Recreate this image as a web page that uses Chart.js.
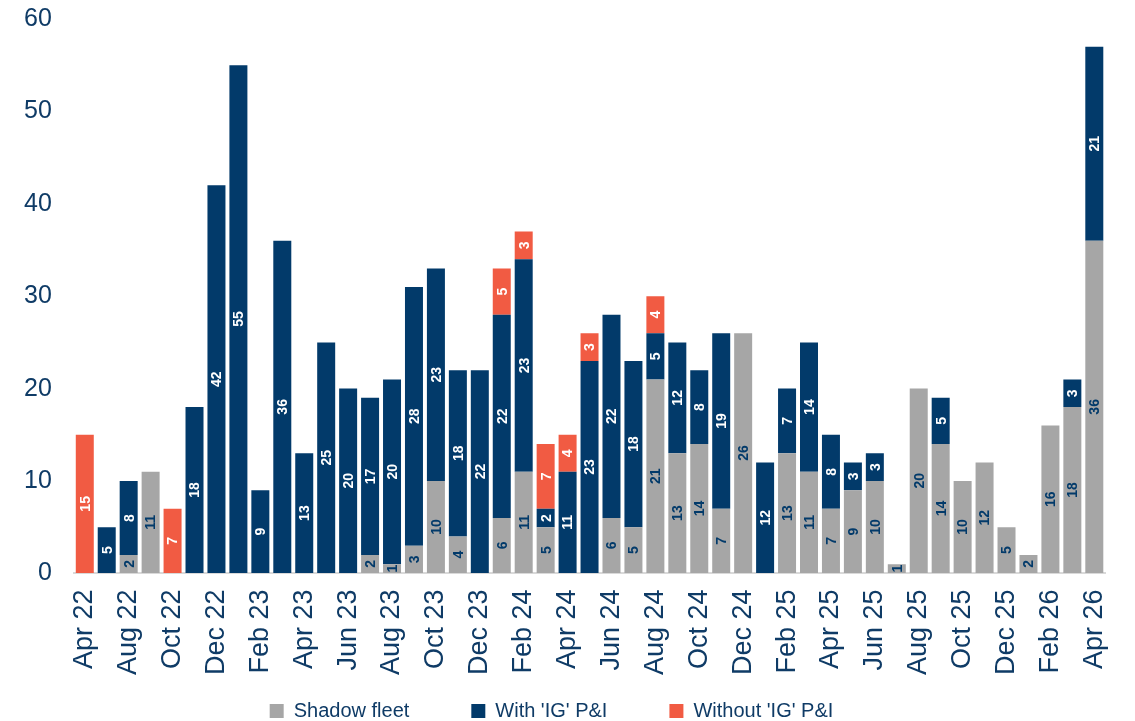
<!DOCTYPE html>
<html>
<head>
<meta charset="utf-8">
<script src="https://cdn.jsdelivr.net/npm/chart.js@4.4.1/dist/chart.umd.min.js"></script>
<style>
  html, body { margin: 0; padding: 0; background: #ffffff; }
  #wrap { width: 1135px; height: 721px; position: relative; }
</style>
</head>
<body>
<div id="wrap"><canvas id="tankers"></canvas></div>
<script>
// Monthly categories (second bar sits between Apr 22 and Aug 22)
const months = [
  'Apr 22', 'Jun 22', 'Aug 22', 'Sep 22', 'Oct 22', 'Nov 22', 'Dec 22', 'Jan 23',
  'Feb 23', 'Mar 23', 'Apr 23', 'May 23', 'Jun 23', 'Jul 23', 'Aug 23', 'Sep 23',
  'Oct 23', 'Nov 23', 'Dec 23', 'Jan 24', 'Feb 24', 'Mar 24', 'Apr 24', 'May 24',
  'Jun 24', 'Jul 24', 'Aug 24', 'Sep 24', 'Oct 24', 'Nov 24', 'Dec 24', 'Jan 25',
  'Feb 25', 'Mar 25', 'Apr 25', 'May 25', 'Jun 25', 'Jul 25', 'Aug 25', 'Sep 25',
  'Oct 25', 'Nov 25', 'Dec 25', 'Jan 26', 'Feb 26', 'Mar 26', 'Apr 26'
];

const shadowFleet = [
  0, 0, 2, 11, 0, 0, 0, 0,
  0, 0, 0, 0, 0, 2, 1, 3,
  10, 4, 0, 6, 11, 5, 0, 0,
  6, 5, 21, 13, 14, 7, 26, 0,
  13, 11, 7, 9, 10, 1, 20, 14,
  10, 12, 5, 2, 16, 18, 36
];

const withIG = [
  0, 5, 8, 0, 0, 18, 42, 55,
  9, 36, 13, 25, 20, 17, 20, 28,
  23, 18, 22, 22, 23, 2, 11, 23,
  22, 18, 5, 12, 8, 19, 0, 12,
  7, 14, 8, 3, 3, 0, 0, 5,
  0, 0, 0, 0, 0, 3, 21
];

const withoutIG = [
  15, 0, 0, 0, 7, 0, 0, 0,
  0, 0, 0, 0, 0, 0, 0, 0,
  0, 0, 0, 5, 3, 7, 4, 3,
  0, 0, 4, 0, 0, 0, 0, 0,
  0, 0, 0, 0, 0, 0, 0, 0,
  0, 0, 0, 0, 0, 0, 0
];

const yTicks = [0, 10, 20, 30, 40, 50, 60];

const NAVY = '#023a6a';
const GREY = '#a6a6a6';
const RED = '#f15b43';
const TEXT = '#0f3b66';
const FONT = '"Liberation Sans", Arial, sans-serif';
const LEGEND_GAP = 62;

// draws the rotated value inside each bar segment
const segmentLabels = {
  id: 'segmentLabels',
  afterDatasetsDraw(chart) {
    const ctx = chart.ctx;
    ctx.save();
    ctx.font = 'bold 14px ' + FONT;
    ctx.textAlign = 'center';
    ctx.textBaseline = 'middle';
    chart.data.datasets.forEach((ds, di) => {
      const meta = chart.getDatasetMeta(di);
      if (meta.hidden) return;
      meta.data.forEach((bar, i) => {
        const v = ds.data[i];
        if (!v) return;
        const y = (bar.y + bar.base) / 2;
        ctx.save();
        ctx.translate(bar.x, y);
        ctx.rotate(-Math.PI / 2);
        ctx.fillStyle = ds.labelColor;
        ctx.fillText(String(v), 0, 1);
        ctx.restore();
      });
    });
    ctx.restore();
  }
};

// legend items need wide horizontal gaps but only a thin strip at the bottom,
// so keep the legend box small in the layout and move it up after layout
const legendSlot = {
  id: 'legendSlot',
  afterInit(chart) {
    const lg = chart.legend;
    const origFit = lg.fit;
    lg.fit = function() {
      origFit.call(this);
      this.height = 38;
    };
  },
  afterLayout(chart) {
    const lg = chart.legend;
    lg.top = 701 - LEGEND_GAP;
    lg.bottom = chart.height;
    lg.right -= 24;
  }
};

const ctx = document.getElementById('tankers').getContext('2d');

new Chart(ctx, {
  type: 'bar',
  data: {
    labels: months,
    datasets: [
      {
        label: 'Shadow fleet',
        data: shadowFleet,
        backgroundColor: GREY,
        labelColor: NAVY
      },
      {
        label: "With 'IG' P&I",
        data: withIG,
        backgroundColor: NAVY,
        labelColor: '#ffffff'
      },
      {
        label: "Without 'IG' P&I",
        data: withoutIG,
        backgroundColor: RED,
        labelColor: '#ffffff'
      }
    ]
  },
  options: {
    responsive: true,
    maintainAspectRatio: false,
    animation: false,
    layout: {
      padding: { left: 20, right: 28, top: 0, bottom: 0 }
    },
    datasets: {
      bar: {
        barPercentage: 0.82,
        categoryPercentage: 1.0
      }
    },
    plugins: {
      tooltip: { enabled: false },
      legend: {
        position: 'bottom',
        labels: {
          color: TEXT,
          boxWidth: 14,
          boxHeight: 14,
          padding: LEGEND_GAP,
          font: { family: FONT, size: 20 }
        }
      }
    },
    scales: {
      x: {
        stacked: true,
        grid: { display: false },
        border: { display: true, color: '#d9d9d9', width: 2 },
        ticks: {
          color: TEXT,
          autoSkip: false,
          minRotation: 90,
          maxRotation: 90,
          padding: 8,
          font: { family: FONT, size: 27 },
          callback: function(value, index) {
            return index % 2 === 0 ? months[index] : '';
          }
        }
      },
      y: {
        stacked: true,
        min: yTicks[0],
        max: yTicks[yTicks.length - 1],
        // invisible tick marks give the gap between labels and bars
        grid: {
          display: true,
          drawOnChartArea: false,
          drawTicks: true,
          tickLength: 18,
          color: 'rgba(0,0,0,0)'
        },
        border: { display: false },
        afterBuildTicks: axis => {
          axis.ticks = yTicks.map(v => ({ value: v }));
        },
        ticks: {
          color: TEXT,
          padding: 4,
          font: { family: FONT, size: 25 }
        }
      }
    }
  },
  plugins: [segmentLabels, legendSlot]
});
</script>
</body>
</html>
